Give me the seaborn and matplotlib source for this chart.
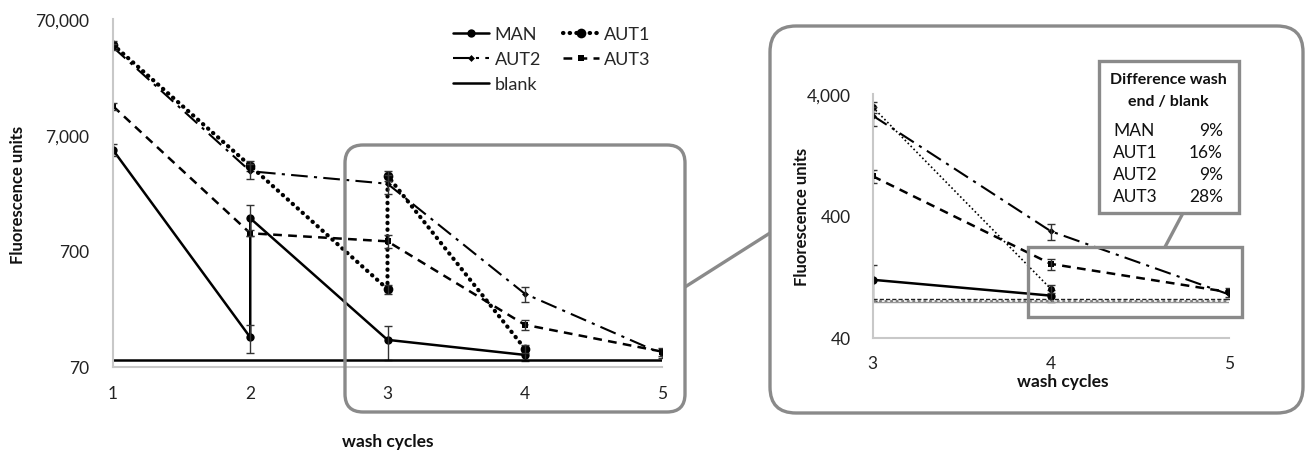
import numpy as np
import pandas as pd
import matplotlib
matplotlib.use("Agg")
import matplotlib.pyplot as plt
import seaborn as sns
from matplotlib.patches import FancyBboxPatch, Rectangle
from matplotlib.lines import Line2D

# ---------------- data ----------------
cycles_man = [1, 2, 2, 3, 4]
man = [5200, 126, 1340, 120, 89]
man_err = [600, 34, 400, 39, 10]

cycles_aut1 = [1, 2, 3, 3, 4]
aut1 = [42000, 3800, 329, 3120, 101]
aut1_err = [3000, 350, 30, 330, 8]

cycles_aut2 = [1, 2, 3, 4, 5]
aut2 = [40000, 3410, 2660, 300, 91]
aut2_err = [2500, 500, 480, 44, 8]

cycles_aut3 = [1, 2, 3, 4, 5]
aut3 = [12400, 995, 848, 162, 95]
aut3_err = [800, 60, 105, 17, 8]

cycles_blank = [1, 2, 3, 4, 5]
blank = [80, 80, 80, 80, 80]

# inset (cycles 3-5) starts at these indices of the series above
inset_start = {"MAN": 3, "AUT1": 3, "AUT2": 2, "AUT3": 2}
inset_blank = [83, 81, 79.5]

table_names = ["MAN", "AUT1", "AUT2", "AUT3"]
table_pct = ["9%", "16%", "9%", "28%"]

main_yticks = [70, 700, 7000, 70000]
main_yticklabels = ["70", "700", "7,000", "70,000"]
inset_yticks = [40, 400, 4000]
inset_yticklabels = ["40", "400", "4,000"]

# ---------------- style ----------------
sns.set_style("white")
plt.rcParams["font.family"] = ["Lato", "DejaVu Sans"]

W, H = 1311, 452
fig = plt.figure(figsize=(W / 100, H / 100), dpi=100)

def fx(px):
    return px / W

def fy(py):
    return 1 - py / H

series = {
    "MAN": (cycles_man, man, man_err,
            dict(linestyle="-", linewidth=1.8, marker="o", markersize=6)),
    "AUT1": (cycles_aut1, aut1, aut1_err,
             dict(linestyle=(0, (0.1, 1.5)), linewidth=3.0, marker="o", markersize=7,
                  dash_capstyle="round")),
    "AUT2": (cycles_aut2, aut2, aut2_err,
             dict(linestyle=(0, (8, 3, 1.5, 3)), linewidth=1.5, marker="D", markersize=3.5)),
    "AUT3": (cycles_aut3, aut3, aut3_err,
             dict(linestyle=(0, (3.5, 2.5)), linewidth=1.8, marker="s", markersize=5)),
}

# ---------------- main axes ----------------
ax = fig.add_axes([fx(113), fy(368), fx(662) - fx(113), fy(20) - fy(368)])
for name, (xs, ys, es, st) in series.items():
    df = pd.DataFrame({"cycle": xs, "value": ys})
    sns.lineplot(data=df, x="cycle", y="value", ax=ax, sort=False, estimator=None,
                 color="black", markeredgewidth=0, **st)
    ax.errorbar(xs, ys, yerr=es, fmt="none", ecolor="#333333", elinewidth=1,
                capsize=3, capthick=1)

df_b = pd.DataFrame({"cycle": cycles_blank, "value": blank})
sns.lineplot(data=df_b, x="cycle", y="value", ax=ax, sort=False, estimator=None,
             color="black", linewidth=1.8)

ax.set_yscale("log")
ax.set_ylim(70, 70000)
ax.set_xlim(1, 5)
ax.set_xticks([1, 2, 3, 4, 5])
ax.set_xticklabels(["1", "2", "3", "4", "5"])
ax.set_yticks(main_yticks)
ax.set_yticklabels(main_yticklabels)
ax.minorticks_off()
ax.tick_params(axis="both", length=0, labelsize=12.5, colors="#222222")
ax.tick_params(axis="y", pad=17)
ax.tick_params(axis="x", pad=13)
ax.set_xlabel("")
ax.set_ylabel("")
for s in ["top", "right"]:
    ax.spines[s].set_visible(False)
for s in ["left", "bottom"]:
    ax.spines[s].set_color("#c8c8c8")
    ax.spines[s].set_linewidth(1.5)
ax.set_facecolor("none")

fig.text(fx(18), fy(195), "Fluorescence units", rotation=90, ha="center", va="center",
         fontsize=12, fontweight="bold", color="#111111")
fig.text(fx(388), fy(442), "wash cycles", ha="center", va="center",
         fontsize=12.5, fontweight="bold", color="#111111")

# legend (row-major order with ncol=2 -> column-major list)
def proxy(name):
    st = series[name][3]
    return Line2D([], [], color="black", markeredgewidth=0, **st)

lh = [proxy("MAN"), proxy("AUT2"), Line2D([], [], color="black", linewidth=1.8),
      proxy("AUT1"), proxy("AUT3")]
ll = ["MAN", "AUT2", "blank", "AUT1", "AUT3"]
fig.legend(lh, ll, loc="upper left", bbox_to_anchor=(fx(453), fy(27)), ncol=2,
           frameon=False, fontsize=13, handlelength=2.0, handletextpad=0.3,
           columnspacing=1.2, labelspacing=0.5, borderpad=0, borderaxespad=0)

# ---------------- inset axes ----------------
ax2 = fig.add_axes([fx(872.7), fy(339), fx(1229) - fx(872.7), fy(95) - fy(339)])
inset_styles = {
    "MAN": dict(linestyle="-", linewidth=1.8, marker="o", markersize=6),
    "AUT1": dict(linestyle=(0, (1, 1.5)), linewidth=1.2, marker="o", markersize=5),
    "AUT2": dict(linestyle=(0, (8, 3, 1.5, 3)), linewidth=1.5, marker="D", markersize=3.5),
    "AUT3": dict(linestyle=(0, (3.5, 2.5)), linewidth=1.8, marker="s", markersize=5),
}
for name, (xs, ys, es, st) in series.items():
    i0 = inset_start[name]
    df = pd.DataFrame({"cycle": xs[i0:], "value": ys[i0:]})
    sns.lineplot(data=df, x="cycle", y="value", ax=ax2, sort=False, estimator=None,
                 color="black", markeredgewidth=0, **inset_styles[name])
    ax2.errorbar(xs[i0:], ys[i0:], yerr=es[i0:], fmt="none", ecolor="#333333",
                 elinewidth=1, capsize=3, capthick=1)

blank_styles = [dict(color="#222222", linestyle=(0, (3, 1.5)), linewidth=1.0),
                dict(color="#777777", linestyle=(0, (1, 1)), linewidth=2.0),
                dict(color="#999999", linestyle="-", linewidth=1.0)]
for lvl, st in zip(inset_blank, blank_styles):
    dfb = pd.DataFrame({"cycle": [3, 5], "value": [lvl, lvl]})
    sns.lineplot(data=dfb, x="cycle", y="value", ax=ax2, estimator=None, **st)

ax2.set_yscale("log")
ax2.set_ylim(40, 4000)
ax2.set_xlim(3, 5)
ax2.set_xticks([3, 4, 5])
ax2.set_xticklabels(["3", "4", "5"])
ax2.set_yticks(inset_yticks)
ax2.set_yticklabels(inset_yticklabels)
ax2.minorticks_off()
ax2.tick_params(axis="both", length=0, labelsize=12.5, colors="#222222")
ax2.tick_params(axis="y", pad=16)
ax2.tick_params(axis="x", pad=12)
ax2.set_xlabel("")
ax2.set_ylabel("")
for s in ["top", "right"]:
    ax2.spines[s].set_visible(False)
for s in ["left", "bottom"]:
    ax2.spines[s].set_color("#c8c8c8")
    ax2.spines[s].set_linewidth(1.5)
ax2.set_facecolor("none")

fig.text(fx(802), fy(217), "Fluorescence units", rotation=90, ha="center", va="center",
         fontsize=12, fontweight="bold", color="#111111")
fig.text(fx(1063), fy(382), "wash cycles", ha="center", va="center",
         fontsize=12.5, fontweight="bold", color="#111111")

# ---------------- overlay (pixel coordinates) ----------------
ov = fig.add_axes([0, 0, 1, 1], zorder=10)
ov.set_xlim(0, W)
ov.set_ylim(H, 0)
ov.axis("off")
ov.set_facecolor("none")
GRAY = "#8a8a8a"
LW = 2.4

ov.add_patch(FancyBboxPatch((345, 146), 340, 267, boxstyle="round,pad=0,rounding_size=18",
                            fill=False, edgecolor=GRAY, linewidth=LW))
ov.add_patch(FancyBboxPatch((770, 27), 533, 387, boxstyle="round,pad=0,rounding_size=26",
                            fill=False, edgecolor=GRAY, linewidth=LW))
ov.plot([685, 770], [288, 234], color=GRAY, linewidth=LW, solid_capstyle="butt")

ov.add_patch(Rectangle((1028, 248), 214, 70, fill=False, edgecolor=GRAY, linewidth=LW))
ov.plot([1183, 1165], [214, 248], color=GRAY, linewidth=LW, solid_capstyle="butt")
ov.add_patch(Rectangle((1099, 62), 140, 152, facecolor="white", edgecolor=GRAY, linewidth=LW))
ov.text(1168, 80, "Difference wash", ha="center", va="center", fontsize=11.5,
        fontweight="bold", color="#111111")
ov.text(1168, 102, "end / blank", ha="center", va="center", fontsize=11.5,
        fontweight="bold", color="#111111")
for i, (n, p) in enumerate(zip(table_names, table_pct)):
    yy = 131 + i * 22
    ov.text(1113, yy, n, ha="left", va="center", fontsize=12.5, color="#111111")
    ov.text(1223, yy, p, ha="right", va="center", fontsize=12.5, color="#111111")

fig.savefig("out.png", dpi=100, facecolor="white")
